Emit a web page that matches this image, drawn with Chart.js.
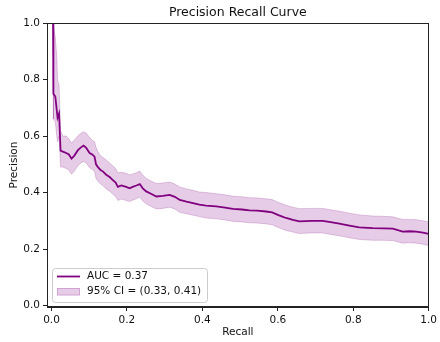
<!DOCTYPE html>
<html>
<head>
<meta charset="utf-8">
<script src="https://cdn.jsdelivr.net/npm/chart.js@4.4.0/dist/chart.umd.min.js"></script>
<style>
html,body{margin:0;padding:0;background:#fff;}
canvas{display:block;}
</style>
</head>
<body>
<canvas id="c" width="440" height="342"></canvas>
<script>
const recall = [0.004,0.004,0.006,0.010,0.014,0.016,0.020,0.024,0.030,0.039,
0.046,0.053,0.060,0.070,0.078,0.085,0.092,0.101,0.108,0.114,
0.118,0.123,0.130,0.136,0.145,0.154,0.162,0.170,0.176,0.185,
0.198,0.207,0.215,0.225,0.234,0.242,0.251,0.265,0.278,0.295,
0.313,0.327,0.340,0.358,0.375,0.392,0.41,0.437,0.46,0.481,
0.505,0.525,0.545,0.569,0.585,0.600,0.612,0.622,0.640,0.657,
0.690,0.719,0.740,0.763,0.790,0.816,0.852,0.880,0.905,0.931,
0.950,0.967,0.985,1.0];
const precision = [1.0,0.78,0.75,0.74,0.69,0.665,0.68,0.548,0.545,0.54,
0.535,0.52,0.53,0.55,0.56,0.566,0.558,0.54,0.535,0.527,
0.50,0.49,0.48,0.475,0.463,0.455,0.445,0.435,0.42,0.425,
0.42,0.415,0.42,0.425,0.43,0.415,0.404,0.395,0.386,0.388,
0.392,0.385,0.374,0.368,0.363,0.357,0.354,0.351,0.347,0.342,
0.34,0.337,0.336,0.333,0.33,0.321,0.315,0.31,0.303,0.298,
0.300,0.300,0.295,0.29,0.283,0.277,0.274,0.273,0.272,0.262,
0.263,0.262,0.258,0.254];
const ciUpper = [1.0,1.0,1.0,0.95,0.88,0.8,0.78,0.62,0.6,0.6,
0.59,0.575,0.585,0.6,0.61,0.615,0.61,0.595,0.585,0.58,
0.56,0.545,0.53,0.525,0.515,0.505,0.495,0.485,0.47,0.472,
0.468,0.462,0.466,0.47,0.476,0.462,0.45,0.44,0.432,0.434,
0.437,0.43,0.42,0.413,0.408,0.402,0.4,0.396,0.392,0.387,
0.385,0.382,0.381,0.378,0.375,0.366,0.36,0.355,0.348,0.343,
0.344,0.344,0.339,0.334,0.327,0.321,0.317,0.316,0.314,0.305,
0.305,0.304,0.3,0.296];
const ciLower = [0.85,0.7,0.66,0.65,0.6,0.58,0.6,0.49,0.49,0.485,
0.48,0.465,0.475,0.495,0.505,0.51,0.505,0.488,0.482,0.475,
0.45,0.44,0.43,0.425,0.413,0.405,0.395,0.386,0.372,0.377,
0.372,0.368,0.373,0.378,0.384,0.37,0.36,0.35,0.342,0.344,
0.348,0.342,0.33,0.325,0.32,0.315,0.31,0.307,0.303,0.298,
0.296,0.293,0.292,0.289,0.286,0.277,0.271,0.266,0.26,0.255,
0.257,0.257,0.252,0.247,0.24,0.234,0.231,0.231,0.23,0.221,
0.222,0.221,0.217,0.213];
const xTicks = [0.0,0.2,0.4,0.6,0.8,1.0];
const yTicks = [0.0,0.2,0.4,0.6,0.8,1.0];
const titleText = 'Precision Recall Curve';
const xLabel = 'Recall';
const yLabel = 'Precision';
const legendLabels = ['AUC = 0.37','95% CI = (0.33, 0.41)'];

const FONT = "'DejaVu Sans', sans-serif";
const PURPLE = 'rgb(128,0,128)';
const BAND = 'rgba(128,0,128,0.2)';

const pts = (ys) => recall.map((x,i)=>({x:x,y:ys[i]}));

const frame = {
  id:'frame',
  afterDraw(chart){
    const a = chart.chartArea, ctx = chart.ctx;
    ctx.save();
    ctx.strokeStyle = '#222';
    ctx.lineWidth = 1;
    ctx.strokeRect(Math.round(a.left)+0.5, Math.round(a.top)+0.5, Math.round(a.right-a.left)-1, Math.round(a.bottom-a.top)-1);
    // legend box
    const bx=52.5, by=268.5, bw=155, bh=34, r=3;
    ctx.fillStyle='rgba(255,255,255,0.8)';
    ctx.strokeStyle='#cccccc';
    ctx.beginPath();
    ctx.moveTo(bx+r,by);ctx.lineTo(bx+bw-r,by);ctx.quadraticCurveTo(bx+bw,by,bx+bw,by+r);
    ctx.lineTo(bx+bw,by+bh-r);ctx.quadraticCurveTo(bx+bw,by+bh,bx+bw-r,by+bh);
    ctx.lineTo(bx+r,by+bh);ctx.quadraticCurveTo(bx,by+bh,bx,by+bh-r);
    ctx.lineTo(bx,by+r);ctx.quadraticCurveTo(bx,by,bx+r,by);
    ctx.closePath();ctx.fill();ctx.stroke();
    ctx.strokeStyle=PURPLE;ctx.lineWidth=1.8;
    ctx.beginPath();ctx.moveTo(57,276.5);ctx.lineTo(80,276.5);ctx.stroke();
    ctx.fillStyle=BAND;ctx.fillRect(57,288,23,7.5);
    ctx.strokeStyle=BAND;ctx.lineWidth=1;ctx.strokeRect(57.5,288.5,22,6.5);
    ctx.fillStyle='#111';
    ctx.font='10.5px '+FONT;
    ctx.textBaseline='middle';ctx.textAlign='left';
    ctx.fillText(legendLabels[0],87,276.5);
    ctx.fillText(legendLabels[1],87,291.5);
    ctx.restore();
  }
};

new Chart(document.getElementById('c'),{
  type:'line',
  data:{datasets:[
    {label:'lower',data:pts(ciLower),borderColor:BAND,borderWidth:1,pointRadius:0,fill:false,tension:0,order:3},
    {label:'upper',data:pts(ciUpper),borderColor:BAND,borderWidth:1,pointRadius:0,backgroundColor:BAND,fill:'-1',tension:0,order:2},
    {label:legendLabels[0],data:pts(precision),borderColor:PURPLE,borderWidth:1.8,pointRadius:0,fill:false,tension:0,order:1}
  ]},
  options:{
    responsive:false,animation:false,
    layout:{padding:{left:0,right:11,top:0,bottom:0}},
    plugins:{
      legend:{display:false},tooltip:{enabled:false},
      title:{display:true,text:titleText,fullSize:false,color:'#111',font:{family:FONT,size:12.5,weight:'normal',lineHeight:1.2},padding:{top:5,bottom:3}},
    },
    scales:{
      x:{type:'linear',min:-0.012,max:1.0,
        afterFit(s){s.height=35;},
        afterBuildTicks(s){s.ticks=xTicks.map(v=>({value:v}));},
        grid:{drawOnChartArea:false,drawTicks:true,tickLength:4,color:'#222'},
        border:{display:true,color:'#222',width:1},
        ticks:{padding:3,color:'#111',font:{family:FONT,size:10.5},maxRotation:0,callback:v=>Number(v).toFixed(1)},
        title:{display:true,text:xLabel,color:'#111',font:{family:FONT,size:10.5},padding:{top:0,bottom:3}}
      },
      y:{type:'linear',min:-0.005,max:1.0,
        afterFit(s){s.width=47;},
        afterBuildTicks(s){s.ticks=yTicks.map(v=>({value:v}));},
        grid:{drawOnChartArea:false,drawTicks:true,tickLength:4,color:'#222'},
        border:{display:true,color:'#222',width:1},
        ticks:{padding:3,color:'#111',font:{family:FONT,size:10.5},callback:v=>Number(v).toFixed(1)},
        title:{display:true,text:yLabel,color:'#111',font:{family:FONT,size:10.5},padding:{top:8,bottom:0}}
      }
    }
  },
  plugins:[frame]
});
</script>
</body>
</html>
